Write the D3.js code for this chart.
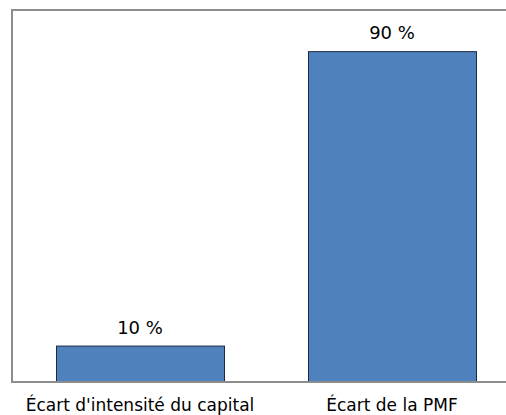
<!DOCTYPE html>
<html>
<head>
<meta charset="utf-8">
<script src="https://cdn.jsdelivr.net/npm/d3@7"></script>
<style>
	html, body { margin: 0; padding: 0; background: #fff; }
	svg { display: block; }
</style>
</head>
<body>
<div id="chart"></div>
<script>
	'use strict';

	// data
	var categories = ["Écart d'intensité du capital", "Écart de la PMF"];
	var shares = [9.7, 90.3];
	var yDomain = [0, 100];

	var width = 506, height = 415;
	var font = "'DejaVu Sans', sans-serif";

	var svg = d3.select("#chart")
		.append("svg")
		.attr("width", width)
		.attr("height", height);

	var x = d3.scaleBand()
		.domain(categories)
		.range([14, 518])
		.paddingInner(1 / 3)
		.paddingOuter(1 / 6);

	var y = d3.scaleLinear()
		.domain(yDomain)
		.range([381.5, 16.2]);

	var fmt = d3.format(".0f");

	// bars
	svg.selectAll("rect.bar")
		.data(shares)
		.enter()
			.append("rect")
			.attr("class", "bar")
			.attr("x", function(d, i){ return x(categories[i]) + 0.5; })
			.attr("y", function(d){ return y(d); })
			.attr("width", x.bandwidth())
			.attr("height", function(d){ return y(0) - y(d); })
			.style("fill", "#4f81bd")
			.style("stroke", "#1c2a44")
			.style("stroke-width", 1);

	// value labels
	svg.selectAll("text.val")
		.data(shares)
		.enter()
			.append("text")
			.attr("class", "val")
			.attr("x", function(d, i){ return x(categories[i]) + x.bandwidth() / 2; })
			.attr("y", function(d){ return y(d) - 12.5; })
			.attr("text-anchor", "middle")
			.style("font-family", font)
			.style("font-size", "18px")
			.style("fill", "#000")
			.text(function(d){ return fmt(d) + " %"; });

	// frame: left and top edges
	svg.append("path")
		.attr("d", "M12,382V10H" + width)
		.style("fill", "none")
		.style("stroke", "#8c8c8c")
		.style("stroke-width", 2);

	// category axis
	var xAxis = svg.append("g")
		.attr("transform", "translate(0,382)")
		.call(d3.axisBottom(x).tickSize(0).tickPadding(16.5));
	xAxis.select(".domain").remove();
	xAxis.append("line")
		.attr("x1", 11).attr("x2", width)
		.attr("y1", 0).attr("y2", 0)
		.style("stroke", "#8c8c8c")
		.style("stroke-width", 2);
	xAxis.selectAll("text")
		.style("font-family", font)
		.style("font-size", "17px")
		.style("fill", "#000");
</script>
</body>
</html>
